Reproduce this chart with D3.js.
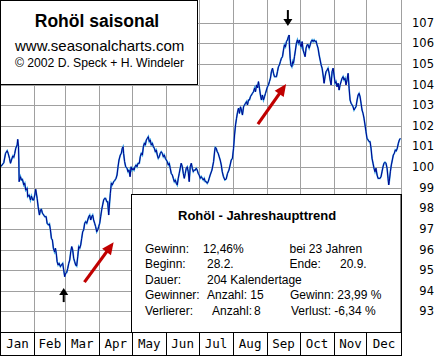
<!DOCTYPE html>
<html><head><meta charset="utf-8">
<script src="https://cdn.jsdelivr.net/npm/d3@7"></script>
<style>html,body{margin:0;padding:0;background:#fff}svg{display:block}</style>
</head><body>
<svg id="c" width="445" height="356"></svg>
<script>
// ---------- data ----------
const months = ["Jan","Feb","Mar","Apr","May","Jun","Jul","Aug","Sep","Oct","Nov","Dec"];
const monthStartDays = [0,31,59,90,120,151,181,212,243,273,304,334,365];
const yTicks = [93,94,95,96,97,98,99,100,101,102,103,104,105,106,107];

const days = [
0,1.5,3.0,4.6,6.1,7.0,8.2,9.1,10.0,11.2,12.1,13.0,13.9,15.2,15.7,16.4,16.7,17.0,18.2,19.1,
20.0,21.2,22.1,23.0,24.3,24.8,26.1,27.3,28.2,29.4,30.3,31.2,32.1,33.4,34.3,35.5,36.4,37.3,38.2,39.4,
40.3,41.6,42.5,43.7,44.6,45.5,46.4,47.3,48.2,49.2,50.1,51.0,51.6,52.5,53.4,54.6,55.5,56.7,57.6,58.5,
59.4,60.3,61.3,62.2,63.1,64.0,64.9,65.8,66.7,67.6,68.5,69.4,70.4,71.3,72.2,73.1,74.0,74.9,75.8,76.7,
77.6,78.6,79.5,80.4,81.3,82.2,83.1,84.0,84.9,85.8,86.7,87.7,88.6,89.5,90.4,91.3,92.2,93.1,94.0,94.9,
95.8,96.8,97.7,98.6,99.5,100.1,
101.0,101.9,103.1,104.0,105.3,106.2,107.1,108.0,109.2,110.1,111.0,111.7,112.2,113.1,114.1,115.3,116.2,117.1,118.1,119.0,
119.9,120.8,121.7,122.6,123.5,124.4,125.3,126.5,127.4,128.3,129.3,130.2,131.1,132.0,132.9,133.8,134.7,135.6,136.5,137.4,
138.4,139.3,140.2,141.1,142.0,142.9,143.8,144.7,145.6,146.5,147.5,148.4,149.3,150.2,151.1,152.0,152.9,153.8,154.7,155.6,
156.6,157.5,158.4,159.3,160.2,161.1,162.0,162.9,163.8,164.7,165.7,166.6,167.5,168.4,169.3,170.2,171.1,172.0,172.9,173.9,
174.8,175.7,176.6,177.5,178.4,179.3,180.2,181.1,182.0,183.0,183.9,184.8,185.7,186.6,187.5,188.4,189.3,190.2,191.1,
192.7,194.2,195.1,195.7,196.6,197.5,198.4,199.3,200.2,201.2,202.1,203.2,204.5,205.7,206.9,208.2,209.3,210.3,211.4,212.4,
213.3,214.2,215.1,216.0,216.9,217.8,218.7,219.6,220.5,221.5,222.4,223.3,224.2,225.1,226.0,226.9,227.8,228.7,229.6,230.6,
231.5,232.4,233.3,234.2,235.1,236.0,236.9,237.8,238.7,239.7,240.6,241.5,242.4,243.3,244.2,245.1,246.0,246.9,247.9,248.8,
249.7,250.6,251.5,252.4,253.3,254.2,255.1,256.0,257.0,257.9,258.8,259.7,260.6,261.5,262.4,263.1,263.3,264.0,264.6,
265.5,266.4,267.0,267.9,268.8,269.7,270.6,271.5,272.4,
273.3,274.0,274.9,275.8,276.7,277.6,278.5,279.4,280.3,281.3,282.2,283.1,284.0,284.9,285.8,286.7,287.6,288.5,289.4,290.4,
291.3,292.2,293.1,294.0,294.9,295.8,296.7,297.6,298.5,299.5,300.4,301.3,302.2,303.1,304.0,304.9,305.8,306.7,307.7,308.6,
309.5,310.4,311.3,312.2,313.1,314.0,314.9,315.8,316.8,317.7,318.6,319.5,320.4,321.3,322.2,323.1,324.0,325.0,325.9,326.8,
327.7,328.6,329.5,330.4,331.3,332.2,333.1,334.0,335.0,335.9,336.8,337.7,338.6,339.5,340.4,341.3,342.2,343.2,344.1,345.0,
345.9,346.8,347.7,348.6,349.5,350.4,351.3,352.3,353.2,353.8,354.3,355.3,356.2,357.1,358.0,358.9,359.8,360.7,361.6,362.6,
363.5,364.4
];

const values = [
100.01,100.10,100.21,100.66,100.79,100.66,100.42,100.18,100.34,100.53,100.47,100.66,100.91,101.07,101.34,100.98,100.34,99.29,99.53,99.37,
99.40,99.13,99.21,98.88,98.97,98.56,98.64,98.40,98.59,98.40,98.40,98.64,98.92,98.48,98.08,97.67,97.92,97.95,97.76,97.67,
97.59,97.59,97.27,97.19,97.24,96.95,96.54,96.46,96.06,95.89,96.06,95.73,95.41,95.25,95.33,95.17,95.25,95.33,95.01,94.68,
94.85,94.88,95.09,95.33,95.49,95.89,96.14,95.98,95.57,95.41,95.25,95.20,95.65,96.14,96.06,96.22,96.54,96.86,96.95,97.27,
97.35,97.27,97.43,97.59,97.67,97.43,97.59,97.67,97.43,97.27,97.11,96.86,96.95,97.11,97.27,97.59,97.92,98.16,98.40,98.48,
98.48,98.32,98.32,97.67,98.32,98.72,
99.21,99.13,99.29,99.34,99.45,99.61,100.01,100.34,100.58,100.66,100.91,100.98,100.66,100.26,100.01,99.94,99.77,99.85,99.53,100.01,
99.85,99.94,99.85,100.01,100.10,100.01,100.18,100.18,100.50,100.66,100.58,100.98,101.15,101.07,101.31,101.39,101.47,101.23,101.31,101.07,
101.15,100.98,100.91,100.74,100.82,100.58,100.42,100.50,100.66,100.74,100.66,100.50,100.58,100.42,100.34,100.26,100.10,100.18,99.94,99.69,
99.61,99.45,99.29,99.37,99.21,99.13,99.45,99.69,99.94,100.18,100.01,99.69,99.45,99.69,99.94,100.01,99.77,99.29,100.01,100.18,
99.94,99.77,99.85,99.85,99.94,99.85,99.69,99.61,99.45,99.53,99.45,99.37,99.45,99.29,99.29,99.21,99.29,99.45,99.61,
99.85,100.26,100.73,100.95,100.91,100.74,100.66,100.50,100.34,100.10,99.77,99.53,99.37,99.42,99.69,99.85,100.10,100.34,100.42,100.91,
101.55,102.04,102.36,102.65,102.85,102.60,102.92,102.76,102.52,102.92,103.01,103.09,103.17,103.01,103.25,103.25,103.41,103.49,103.57,103.65,
103.82,103.65,103.98,103.84,104.14,103.82,103.49,103.25,103.49,103.25,103.41,103.57,103.73,103.89,103.98,104.14,104.30,104.62,104.79,104.54,
104.38,104.38,104.38,104.62,104.86,104.95,105.11,105.27,105.35,105.67,105.92,105.83,106.08,106.16,106.32,106.40,105.92,105.27,104.95,
104.86,105.11,105.03,105.35,105.67,106.00,106.16,106.00,106.16,
105.92,105.83,106.08,105.67,105.51,105.35,105.76,105.92,105.93,105.76,105.92,106.08,106.16,106.08,106.16,106.08,106.11,105.92,105.76,105.43,
105.19,104.95,104.79,104.46,104.06,104.38,104.62,104.70,104.79,104.54,104.22,103.98,104.62,104.79,104.46,104.06,104.14,103.89,104.06,103.73,
103.98,104.14,104.30,104.38,104.22,104.30,103.98,104.22,104.54,103.82,103.25,103.09,103.01,102.92,102.76,102.85,102.92,103.25,103.49,103.57,
103.41,103.09,102.76,102.60,102.36,102.04,101.71,101.39,101.31,101.23,101.23,100.91,100.42,100.18,99.94,99.77,99.94,99.61,99.45,99.45,
99.45,99.53,99.77,100.01,100.18,100.23,100.18,99.94,99.45,99.13,99.29,99.77,100.10,100.34,100.58,100.66,100.82,100.78,100.91,101.15,
101.31,101.39
];

const titleLines = ["Rohöl saisonal","www.seasonalcharts.com","© 2002 D. Speck + H. Windeler"];
const infoTitle = "Rohöl - Jahreshaupttrend";
// annotation arrows in data units: [day, value] from -> to
const trendArrows = [[[76.5,94.42],[103.1,96.35]],[[234.6,102.08],[260.3,104.02]]];
const markerArrows = [[[57.6,93.45],[57.6,94.13]],[[261.9,107.61],[261.9,106.84]]];

// ---------- drawing ----------
const svg = d3.select("#c");
const W = 401, plotBottom = 332, bottom = 355.5;
const x = d3.scaleLinear().domain([0,365]).range([0.5,401]);
const y = d3.scaleLinear().domain([92,108]).range([332,2]);
const px = v => Math.round(v) + 0.5;

svg.append("rect").attr("width",445).attr("height",356).attr("fill","#fff");

const grid = svg.append("g").attr("stroke","#a0a0a0").attr("stroke-width",1);
yTicks.forEach(t => grid.append("line").attr("x1",0).attr("x2",W).attr("y1",px(y(t))).attr("y2",px(y(t))));
monthStartDays.slice(1).forEach(d => grid.append("line").attr("x1",px(x(d)-0.5)).attr("x2",px(x(d)-0.5)).attr("y1",0).attr("y2",plotBottom));

// series
const pts = d3.zip(days, values);
const line = d3.line().x(d => x(d[0])).y(d => y(d[1]));
svg.append("path").datum(pts).attr("d",line).attr("fill","none")
  .attr("stroke","#3aa2e2").attr("stroke-width",1.7);
svg.append("path").datum(pts).attr("d",line).attr("fill","none")
  .attr("stroke","#00008c").attr("stroke-width",1.0);

// arrows
function arrow(g, a, b, color, lw, hl, hw){
  const x1=x(a[0]), y1=y(a[1]), x2=x(b[0]), y2=y(b[1]);
  const dx=x2-x1, dy=y2-y1, L=Math.hypot(dx,dy), ux=dx/L, uy=dy/L;
  const bx=x2-ux*hl, by=y2-uy*hl;
  g.append("line").attr("x1",x1).attr("y1",y1).attr("x2",bx+ux).attr("y2",by+uy)
    .attr("stroke",color).attr("stroke-width",lw);
  g.append("path").attr("d",`M${x2},${y2}L${bx-uy*hw/2},${by+ux*hw/2}L${bx+uy*hw/2},${by-ux*hw/2}Z`).attr("fill",color);
}
const ag = svg.append("g");
trendArrows.forEach(a => arrow(ag, a[0], a[1], "#c00000", 3.2, 12, 11));
markerArrows.forEach(a => arrow(ag, a[0], a[1], "#000", 2, 7, 9));

// title box
svg.append("rect").attr("x",0.5).attr("y",0.5).attr("width",197).attr("height",84).attr("fill","#fff").attr("stroke","#000");
svg.append("text").attr("x",97).attr("y",27).attr("text-anchor","middle")
  .attr("font-family","Liberation Sans, Arial, sans-serif").attr("font-weight","bold").attr("font-size",17.5).text(titleLines[0]);
svg.append("text").attr("x",15).attr("y",51)
  .attr("font-family","Liberation Sans, Arial, sans-serif").attr("font-size",15).text(titleLines[1]);
svg.append("text").attr("x",15).attr("y",67).attr("textLength",169).attr("lengthAdjust","spacing")
  .attr("font-family","Liberation Sans, Arial, sans-serif").attr("font-size",12.2).text(titleLines[2]);

// info box
svg.append("rect").attr("x",131.5).attr("y",194.5).attr("width",269.5).attr("height",138).attr("fill","#fff").attr("stroke","#000");
const info = svg.append("g").attr("font-family","Liberation Sans, Arial, sans-serif").attr("font-size",12).attr("fill","#000");
info.append("text").attr("x",178).attr("y",220).attr("font-weight","bold").attr("font-size",13).text(infoTitle);
const infoCells = [
  ["Gewinn:",145,252.5],["12,46%",203,252.5],["bei 23 Jahren",289.5,252.5],
  ["Beginn:",145,268],["28.2.",207,268],["Ende:",289.5,268],["20.9.",340,268],
  ["Dauer:",145,283.5],["204 Kalendertage",207,283.5],
  ["Gewinner:",145,299],["Anzahl: 15",207,299],["Gewinn: 23,99 %",290,299],
  ["Verlierer:",145,315],["Anzahl:",212,315],["8",254,315],["Verlust: -6,34 %",291,315]
];
infoCells.forEach(c => info.append("text").attr("x",c[1]).attr("y",c[2]).text(c[0]));

// frame and month row
const fr = svg.append("g").attr("stroke","#000").attr("stroke-width",1);
fr.append("line").attr("x1",0.5).attr("x2",0.5).attr("y1",0).attr("y2",356);
fr.append("line").attr("x1",0).attr("x2",W+0.5).attr("y1",plotBottom+0.5).attr("y2",plotBottom+0.5);
fr.append("line").attr("x1",0).attr("x2",W+0.5).attr("y1",bottom).attr("y2",bottom);
monthStartDays.slice(1).forEach(d => fr.append("line").attr("x1",px(x(d)-0.5)).attr("x2",px(x(d)-0.5)).attr("y1",plotBottom).attr("y2",356));
fr.append("line").attr("x1",px(x(365)-0.5)).attr("x2",px(x(365)-0.5)).attr("y1",194).attr("y2",356);

const mg = svg.append("g").attr("font-family","DejaVu Sans Mono, monospace").attr("font-size",12.5).attr("text-anchor","middle");
months.forEach((m,i) => mg.append("text").attr("x",(x(monthStartDays[i])+x(monthStartDays[i+1]))/2).attr("y",347.5).text(m));

// y axis labels
const yg = svg.append("g").attr("font-family","DejaVu Sans, sans-serif").attr("font-size",11.5).attr("text-anchor","end");
yTicks.forEach(t => yg.append("text").attr("x",434).attr("y",y(t)+4).text(t));
</script>
</body></html>
